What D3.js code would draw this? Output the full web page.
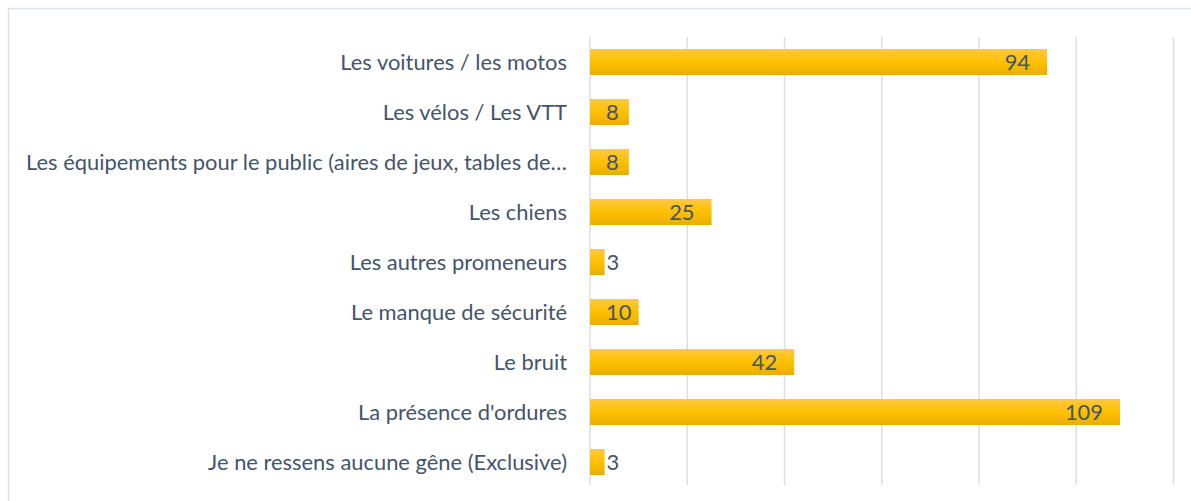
<!DOCTYPE html>
<html>
<head>
<meta charset="utf-8">
<script src="https://cdn.jsdelivr.net/npm/d3@7"></script>
<style>
  body { margin: 0; background: #fff; }
  text { font-family: Lato, "Open Sans", sans-serif; }
</style>
</head>
<body>
<svg id="chart"></svg>
<script>
// Data
const categories = [
  'Les voitures / les motos',
  'Les vélos / Les VTT',
  'Les équipements pour le public (aires de jeux, tables de…',
  'Les chiens',
  'Les autres promeneurs',
  'Le manque de sécurité',
  'Le bruit',
  "La présence d'ordures",
  'Je ne ressens aucune gêne (Exclusive)'
];
const values = [94, 8, 8, 25, 3, 10, 42, 109, 3];
const xTicks = [0, 20, 40, 60, 80, 100, 120];

const width = 1191, height = 501;
const margin = { top: 37, right: 17, bottom: 14, left: 590 };

const svg = d3.select('#chart')
  .attr('width', width)
  .attr('height', height);

// Gradient for bars
const defs = svg.append('defs');
const grad = defs.append('linearGradient')
  .attr('id', 'barGrad')
  .attr('x1', 0).attr('y1', 0).attr('x2', 0).attr('y2', 1);
grad.append('stop').attr('offset', '0%').attr('stop-color', '#ffc843');
grad.append('stop').attr('offset', '50%').attr('stop-color', '#ffc000');
grad.append('stop').attr('offset', '100%').attr('stop-color', '#e8ae00');

// Frame
svg.append('rect')
  .attr('x', 8.5).attr('y', 8.5)
  .attr('width', width + 10).attr('height', height + 10)
  .attr('fill', 'none')
  .attr('stroke', '#dde2e9')
  .attr('stroke-width', 1.5);

const x = d3.scaleLinear()
  .domain([0, 120])
  .range([margin.left, 1173.5]);

const y = d3.scaleBand()
  .domain(categories)
  .range([margin.top, 487])
  .paddingInner(0.48)
  .paddingOuter(0.24);

// Gridlines
svg.append('g')
  .selectAll('line')
  .data(xTicks)
  .join('line')
  .attr('x1', d => x(d)).attr('x2', d => x(d))
  .attr('y1', margin.top).attr('y2', 485)
  .attr('stroke', '#dadfe6')
  .attr('stroke-width', 1.5);

// Category labels
svg.append('g')
  .selectAll('text')
  .data(categories)
  .join('text')
  .attr('x', 567)
  .attr('y', d => y(d) + y.bandwidth() / 2)
  .attr('dy', '0.35em')
  .attr('text-anchor', 'end')
  .attr('fill', '#44546a')
  .style('font-size', '21.9px')
  .text(d => d);

// Bars
const data = categories.map((c, i) => ({ cat: c, value: values[i] }));

svg.append('g')
  .selectAll('rect')
  .data(data)
  .join('rect')
  .attr('x', x(0))
  .attr('y', d => y(d.cat))
  .attr('width', d => x(d.value) - x(0))
  .attr('height', y.bandwidth())
  .attr('fill', 'url(#barGrad)');

// Value labels
const labels = svg.append('g')
  .selectAll('text')
  .data(data)
  .join('text')
  .attr('y', d => y(d.cat) + y.bandwidth() / 2)
  .attr('dy', '0.35em')
  .attr('fill', '#44546a')
  .style('font-size', '21.9px')
  .text(d => d.value);

labels.each(function(d) {
  const t = d3.select(this);
  const tw = this.getComputedTextLength();
  if (d.value < 5) {
    // too small, put the label past the bar end
    t.attr('text-anchor', 'start').attr('x', x(d.value) + 2);
  } else {
    t.attr('text-anchor', 'end')
      .attr('x', Math.max(x(0) + 16 + tw, x(d.value) - 17));
  }
});
</script>
</body>
</html>
